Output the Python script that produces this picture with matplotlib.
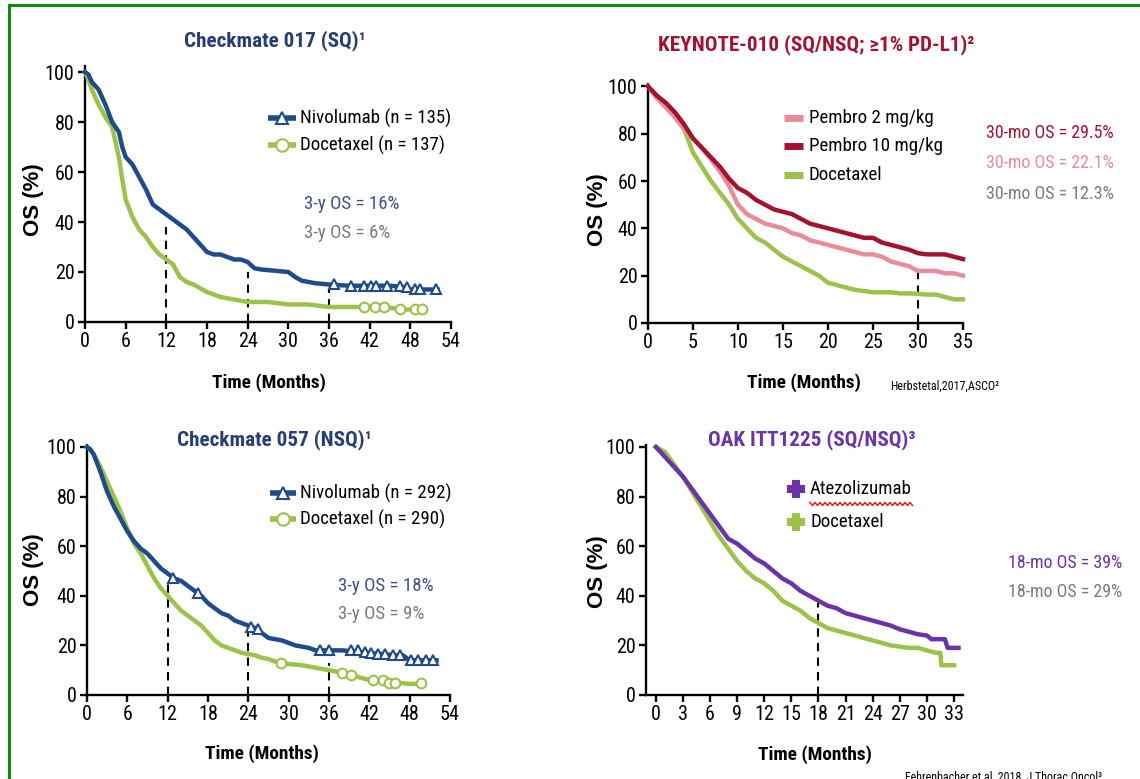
import numpy as np
import matplotlib
matplotlib.use('Agg')
import matplotlib.pyplot as plt
from matplotlib.lines import Line2D
from matplotlib import font_manager as fm

# ---------------- data ----------------
# Checkmate 017 (SQ)
cm017_niv_t = [0, 0.5, 1, 2, 3, 4, 5, 5.5, 6, 7, 8, 9, 10, 11, 12, 13, 14, 15, 16, 17, 18, 19, 20,
               21, 22, 23, 24, 25, 26, 28, 30, 31, 32, 34, 36, 39, 42, 45, 47, 48, 52]
cm017_niv_s = [100, 99, 96, 93, 87, 80, 76, 70, 66, 63, 58, 53, 47, 45, 43, 41, 39, 37, 34, 31, 28, 27, 27,
               26, 25, 25, 24, 21.5, 21, 20.5, 20, 18, 16.5, 15.5, 15, 14.5, 14.5, 14.5, 14, 13, 13]
cm017_doc_t = [0, 0.5, 1, 2, 3, 4, 4.5, 5, 5.5, 6, 7, 8, 9, 10, 11, 12, 13, 14, 15, 16, 17, 18, 19, 20,
               21, 22, 23, 24, 27, 30, 33, 36, 40, 44, 47, 50]
cm017_doc_s = [100, 97, 93, 87, 82, 78, 72, 66, 57, 49, 42, 37, 34, 30, 27, 25, 23, 18, 16, 15, 13.5, 12, 11, 10,
               9.5, 9, 8.5, 8, 8, 7, 7, 6, 6, 6, 5, 5]
cm017_niv_cens_t = [36.8, 39.2, 41.1, 42.2, 42.9, 44.5, 46.5, 47.5, 48.7, 49.4, 51.8]
cm017_niv_cens_s = [15, 14.5, 14.5, 14.5, 14.5, 14.5, 14.5, 14, 13, 13, 13]
cm017_doc_cens_t = [41.1, 42.8, 44.1, 46.5, 48.7, 49.7]
cm017_doc_cens_s = [6, 6, 6, 5, 5, 5]
cm017_marks = [12, 24, 36]
cm017_mark_h = [38, 20, 13]

# Checkmate 057 (NSQ)
cm057_niv_t = [0, 0.5, 1, 2, 3, 4, 5, 6, 7, 8, 9, 10, 11, 12, 13, 14, 15, 16, 17, 18, 19, 20, 21, 22, 23,
               24, 25, 26, 27, 28, 29, 30, 31, 32, 33, 34, 36, 38, 40, 42, 44, 46, 47, 48, 50, 52]
cm057_niv_s = [100, 99, 97, 90, 82, 76, 71, 66, 62, 59, 57, 54, 51, 49, 47, 46, 44, 42, 40, 37, 35, 33, 32, 30, 29,
               28, 27, 25, 23, 22.5, 22, 21, 20, 19.5, 19, 18, 18, 18, 17.5, 17, 16.5, 16, 16, 14, 14, 14]
cm057_doc_t = [0, 0.5, 1, 2, 3, 4, 5, 6, 7, 8, 9, 10, 11, 12, 13, 14, 15, 16, 17, 18, 19, 20, 21, 22, 23,
               24, 25, 26, 27, 28, 29, 30, 32, 34, 36, 38, 40, 42, 44, 46, 48, 50]
cm057_doc_s = [100, 99, 97, 92, 86, 80, 74, 67, 61, 57, 52, 47, 43, 40, 37, 34, 32, 30, 28, 25, 22, 20, 19, 18, 17,
               16.5, 16, 15, 14.5, 13.5, 13, 12.5, 12, 11, 10, 9, 7.5, 6, 5.5, 5, 4.5, 4.5]
cm057_niv_cens_t = [12.8, 16.5, 24.4, 25.4, 34.7, 36.0, 39.3, 40.3, 41.4, 42.3, 43.3, 44.4, 45.5, 46.6,
                    48.2, 49.3, 50.4, 51.4]
cm057_niv_cens_s = [47, 41, 27.5, 26.5, 18, 18, 18, 18, 17.5, 17, 16.5, 16.5, 16, 16, 14, 14, 14, 14]
cm057_doc_cens_t = [28.8, 37.9, 39.3, 42.5, 44.1, 44.9, 45.8, 49.7]
cm057_doc_cens_s = [13, 9, 8, 6, 6, 5, 5, 5]
cm057_marks = [12, 24, 36]
cm057_mark_h = [46, 26, 13]

# KEYNOTE-010
kn_t = list(range(0, 36))
kn_p2_s = [100, 95, 91, 87, 82, 78, 74, 69, 64, 58, 50, 46, 44, 42, 41, 40, 38, 37, 35, 34, 33, 32, 31, 30,
           29, 29, 28, 26, 25, 24, 22, 22, 22, 21, 21, 20]
kn_p10_s = [100, 96, 93, 89, 84, 78, 74, 70, 66, 61, 57, 55, 52, 50, 48, 47, 46, 44, 42, 41, 40, 39, 38, 37,
            36, 36, 34, 33, 32, 31, 29.5, 29, 29, 29, 28, 27]
kn_doc_s = [100, 96, 92, 87, 82, 72, 66, 60, 55, 50, 44, 40, 36, 34, 31, 28, 26, 24, 22, 20, 17, 16, 15, 14,
            13.5, 13, 13, 13, 12.5, 12.5, 12.3, 12, 12, 11, 10, 10]
kn_marks = [30]
kn_mark_h = [21]

# OAK ITT1225
oak_atz_t = [0, 1, 2, 3, 4, 5, 6, 7, 8, 9, 10, 11, 12, 13, 14, 15, 16, 17, 18, 19, 20, 21, 22, 23, 24, 25,
             26, 27, 28, 29, 30, 30.5, 32, 32.3, 33.5]
oak_atz_s = [100, 96, 92, 88, 83, 78, 73, 68, 63, 61, 58, 55, 53, 50, 47, 45, 42, 40, 38, 36, 35, 33, 32, 31, 30,
             29, 28, 26.5, 25.5, 24.5, 24, 22.5, 22.5, 19, 19]
oak_doc_t = [0, 1, 2, 3, 4, 5, 6, 7, 8, 9, 10, 11, 12, 13, 14, 15, 16, 17, 18, 19, 20, 21, 22, 23, 24, 25,
             26, 27, 28, 29, 30, 31, 31.5, 31.6, 33]
oak_doc_s = [100, 98, 93, 88, 82, 76, 70, 64, 59, 54, 50, 47, 45, 42, 38, 36, 34, 31, 29, 27, 26, 25, 24, 23, 22,
             21, 20, 19.5, 19, 19, 18, 17, 17, 12, 12]
oak_marks = [18]
oak_mark_h = [37]

# ---------------- font choice (prefer a condensed sans) ----------------
CONDENSED = ('condensed', 'semi-condensed', 'extra-condensed', 'ultra-condensed')
entries = fm.fontManager.ttflist
pref = ['Liberation Sans Narrow', 'Arial Narrow', 'Roboto Condensed', 'Open Sans Condensed',
        'Noto Sans Condensed', 'Noto Sans', 'Roboto', 'Open Sans', 'Liberation Sans', 'DejaVu Sans']
chosen, stretch = None, 'normal'
for fam in pref:
    hits = [e for e in entries if e.name == fam and
            (str(e.stretch) in CONDENSED or fam.endswith(('Narrow', 'Condensed')))]
    if hits:
        chosen = fam
        stretch = str(hits[0].stretch) if str(hits[0].stretch) in CONDENSED else 'normal'
        break
if chosen is None:
    chosen = 'Liberation Sans'
plt.rcParams['font.family'] = [chosen, 'DejaVu Sans']
plt.rcParams['font.stretch'] = stretch

NAVY = '#1f4a8c'
NAVY_T = '#263d76'
GREEN = '#9dc24c'
GREY = '#7b7b7b'
P10 = '#a3122f'
P2 = '#e68c9d'
PURPLE = '#6a33a6'
BLUE_TXT = '#3e5088'

W, H = 1140, 779
fig = plt.figure(figsize=(W / 100, H / 100), dpi=100)
fig.patch.set_facecolor('white')
renderer = fig.canvas.get_renderer()


def fit(s, target_px, weight='normal', lo=8, hi=20):
    t = fig.text(0, 0, s, fontsize=10, fontweight=weight)
    w = t.get_window_extent(renderer=renderer).width
    t.remove()
    return float(np.clip(10 * target_px / w, lo, hi))


FS_TITLE = fit('Checkmate 017 (SQ)¹', 182, 'bold')
FS_LEG = fit('Nivolumab (n = 135)', 150)
FS_RIGHT = fit('30-mo OS = 29.5%', 127)
FS_XLAB = fit('Time (Months)', 114, 'bold')
FS_TICK = fit('54', 20, hi=16)
FS_FOOT = fit('Herbstetal,2017,ASCO²', 108, hi=10)
YLAB_FONT = ['Liberation Sans', 'DejaVu Sans']


def fx(x):
    return x / W


def fy(y):
    return 1 - y / H


def add_ax(x0, x1, ytop, ybot):
    return fig.add_axes([fx(x0), fy(ybot), fx(x1) - fx(x0), (ybot - ytop) / H])


def style(ax, xlim, ylim, xticks):
    ax.set_xlim(*xlim)
    ax.set_ylim(*ylim)
    ax.set_xticks(xticks)
    ax.set_yticks([0, 20, 40, 60, 80, 100])
    for s in ['top', 'right']:
        ax.spines[s].set_visible(False)
    for s in ['left', 'bottom']:
        ax.spines[s].set_linewidth(1.7)
    ax.tick_params(labelsize=FS_TICK, length=5, width=1.7, pad=2.5, direction='out')
    ax.patch.set_alpha(0)


def ftext(x, y, s, **kw):
    kw.setdefault('va', 'center')
    return fig.text(fx(x), fy(y), s, **kw)


def ylab(x, y):
    ftext(x, y, 'OS (%)', ha='center', fontsize=16, fontweight='bold', rotation=90, family=YLAB_FONT)


def handle(x0, x1, y, color, lw, marker=None, ms=8, mfc=None, mew=1.5):
    fig.add_artist(Line2D([fx(x0), fx(x1)], [fy(y), fy(y)], transform=fig.transFigure,
                          color=color, lw=lw, solid_capstyle='butt'))
    if marker:
        fig.add_artist(Line2D([fx((x0 + x1) / 2)], [fy(y)], transform=fig.transFigure,
                              marker=marker, ms=ms, mfc=mfc if mfc else color, mec=color, mew=mew,
                              ls='none'))


def dashes(ax, xs, hs):
    ax.vlines(xs, 0, hs, colors='black', linestyles=(0, (4, 3)), linewidth=1.5, zorder=1)


# ---------------- Panel 1: Checkmate 017 ----------------
ax1 = add_ax(85, 451, 66, 322)
style(ax1, (0, 54), (0, 102.4), range(0, 55, 6))
dashes(ax1, cm017_marks, cm017_mark_h)
ax1.plot(cm017_doc_t, cm017_doc_s, color=GREEN, lw=3.2, clip_on=False, zorder=3)
ax1.plot(cm017_niv_t, cm017_niv_s, color=NAVY, lw=3.2, clip_on=False, zorder=4)
ax1.plot(cm017_doc_cens_t, cm017_doc_cens_s, ls='none', marker='o', ms=7, mfc='white', mec=GREEN,
         mew=1.5, zorder=5, clip_on=False)
ax1.plot(cm017_niv_cens_t, cm017_niv_cens_s, ls='none', marker='^', ms=7, mfc='white', mec=NAVY,
         mew=1.5, zorder=6, clip_on=False)
ftext(275, 41, 'Checkmate 017 (SQ)¹', ha='center', fontsize=FS_TITLE, fontweight='bold', color=NAVY_T)
ylab(34, 200)
ftext(269, 383, 'Time (Months)', ha='center', fontsize=FS_XLAB, fontweight='bold')
handle(268, 296, 118, NAVY, 4, marker='^', ms=9, mfc='white')
handle(268, 296, 145, GREEN, 4, marker='o', ms=9, mfc='white')
ftext(300, 118, 'Nivolumab (n = 135)', fontsize=FS_LEG)
ftext(300, 145, 'Docetaxel (n = 137)', fontsize=FS_LEG)
ftext(304, 204, '3-y OS = 16%', fontsize=FS_LEG, color=BLUE_TXT)
ftext(304, 233, '3-y OS = 6%', fontsize=FS_LEG, color=GREY)

# ---------------- Panel 2: KEYNOTE-010 ----------------
ax2 = add_ax(648, 963, 84, 323)
style(ax2, (0, 35), (0, 101), range(0, 36, 5))
dashes(ax2, kn_marks, kn_mark_h)
ax2.plot(kn_t, kn_doc_s, color=GREEN, lw=3.2, clip_on=False, zorder=3)
ax2.plot(kn_t, kn_p2_s, color=P2, lw=3.2, clip_on=False, zorder=4)
ax2.plot(kn_t, kn_p10_s, color=P10, lw=3.2, clip_on=False, zorder=5)
ftext(816, 45, 'KEYNOTE-010 (SQ/NSQ; ≥1% PD-L1)²', ha='center', fontsize=FS_TITLE, fontweight='bold', color=P10)
ylab(597, 210)
ftext(804, 383, 'Time (Months)', ha='center', fontsize=FS_XLAB, fontweight='bold')
ftext(890, 386, 'Herbstetal,2017,ASCO²', fontsize=FS_FOOT)
handle(784, 803, 118, P2, 5)
handle(784, 803, 146, P10, 5)
handle(784, 803, 175, GREEN, 5)
ftext(809, 118, 'Pembro 2 mg/kg', fontsize=FS_LEG)
ftext(809, 146, 'Pembro 10 mg/kg', fontsize=FS_LEG)
ftext(809, 175, 'Docetaxel', fontsize=FS_LEG)
ftext(986, 133, '30-mo OS = 29.5%', fontsize=FS_RIGHT, color=P10)
ftext(986, 163, '30-mo OS = 22.1%', fontsize=FS_RIGHT, color=P2)
ftext(986, 194, '30-mo OS = 12.3%', fontsize=FS_RIGHT, color=GREY)

# ---------------- Panel 3: Checkmate 057 ----------------
ax3 = add_ax(87, 450, 445, 695)
style(ax3, (0, 54), (0, 100.8), range(0, 55, 6))
dashes(ax3, cm057_marks, cm057_mark_h)
ax3.plot(cm057_doc_t, cm057_doc_s, color=GREEN, lw=3.2, clip_on=False, zorder=3)
ax3.plot(cm057_niv_t, cm057_niv_s, color=NAVY, lw=3.2, clip_on=False, zorder=4)
ax3.plot(cm057_doc_cens_t, cm057_doc_cens_s, ls='none', marker='o', ms=7, mfc='white', mec=GREEN,
         mew=1.5, zorder=5, clip_on=False)
ax3.plot(cm057_niv_cens_t, cm057_niv_cens_s, ls='none', marker='^', ms=7, mfc='white', mec=NAVY,
         mew=1.5, zorder=6, clip_on=False)
ftext(274, 440, 'Checkmate 057 (NSQ)¹', ha='center', fontsize=FS_TITLE, fontweight='bold', color=NAVY_T)
ylab(34, 570)
ftext(262, 754, 'Time (Months)', ha='center', fontsize=FS_XLAB, fontweight='bold')
handle(270, 296, 493, NAVY, 4, marker='^', ms=9, mfc='white')
handle(270, 296, 519, GREEN, 4, marker='o', ms=9, mfc='white')
ftext(300, 493, 'Nivolumab (n = 292)', fontsize=FS_LEG)
ftext(300, 519, 'Docetaxel (n = 290)', fontsize=FS_LEG)
ftext(338, 586, '3-y OS = 18%', fontsize=FS_LEG, color=BLUE_TXT)
ftext(338, 614, '3-y OS = 9%', fontsize=FS_LEG, color=GREY)

# ---------------- Panel 4: OAK ----------------
ax4 = add_ax(646, 963, 445, 695)
style(ax4, (-1.1, 34), (0, 100.8), range(0, 34, 3))
dashes(ax4, oak_marks, oak_mark_h)
ax4.plot(oak_doc_t, oak_doc_s, color=GREEN, lw=3.2, clip_on=False, zorder=3)
ax4.plot(oak_atz_t, oak_atz_s, color=PURPLE, lw=3.2, clip_on=False, zorder=4)
ftext(812, 440, 'OAK ITT1225 (SQ/NSQ)³', ha='center', fontsize=FS_TITLE, fontweight='bold', color=PURPLE)
ylab(597, 572)
ftext(815, 755, 'Time (Months)', ha='center', fontsize=FS_XLAB, fontweight='bold')
handle(789, 803, 489, PURPLE, 3.5, marker='P', ms=11)
handle(789, 803, 522, GREEN, 3.5, marker='P', ms=11)
t_atz = ftext(810, 489, 'Atezolizumab', fontsize=FS_LEG)
ftext(810, 522, 'Docetaxel', fontsize=FS_LEG)
# spell-check wavy underline under "Atezolizumab"
bb = t_atz.get_window_extent(renderer=renderer)
zx = np.arange(bb.x0, bb.x1 + 2, 2.5)
zy_img = 504 + np.where(np.arange(len(zx)) % 2 == 0, -1.5, 1.5)
fig.add_artist(Line2D(zx / W, 1 - zy_img / H, transform=fig.transFigure, color='#e02020', lw=1.1))
ftext(1008, 563, '18-mo OS = 39%', fontsize=FS_RIGHT, color=PURPLE)
ftext(1008, 592, '18-mo OS = 29%', fontsize=FS_RIGHT, color=GREY)
ftext(905, 777, 'Fehrenbacher et al, 2018, J Thorac Oncol³', fontsize=FS_FOOT)

# ---------------- green frame ----------------
fig.add_artist(Line2D([fx(9), fx(9), fx(W)], [0, fy(5), fy(5)], transform=fig.transFigure,
                      color='#0b8a0b', lw=2.2, solid_joinstyle='miter'))

fig.savefig('out.png', dpi=100, facecolor='white')
